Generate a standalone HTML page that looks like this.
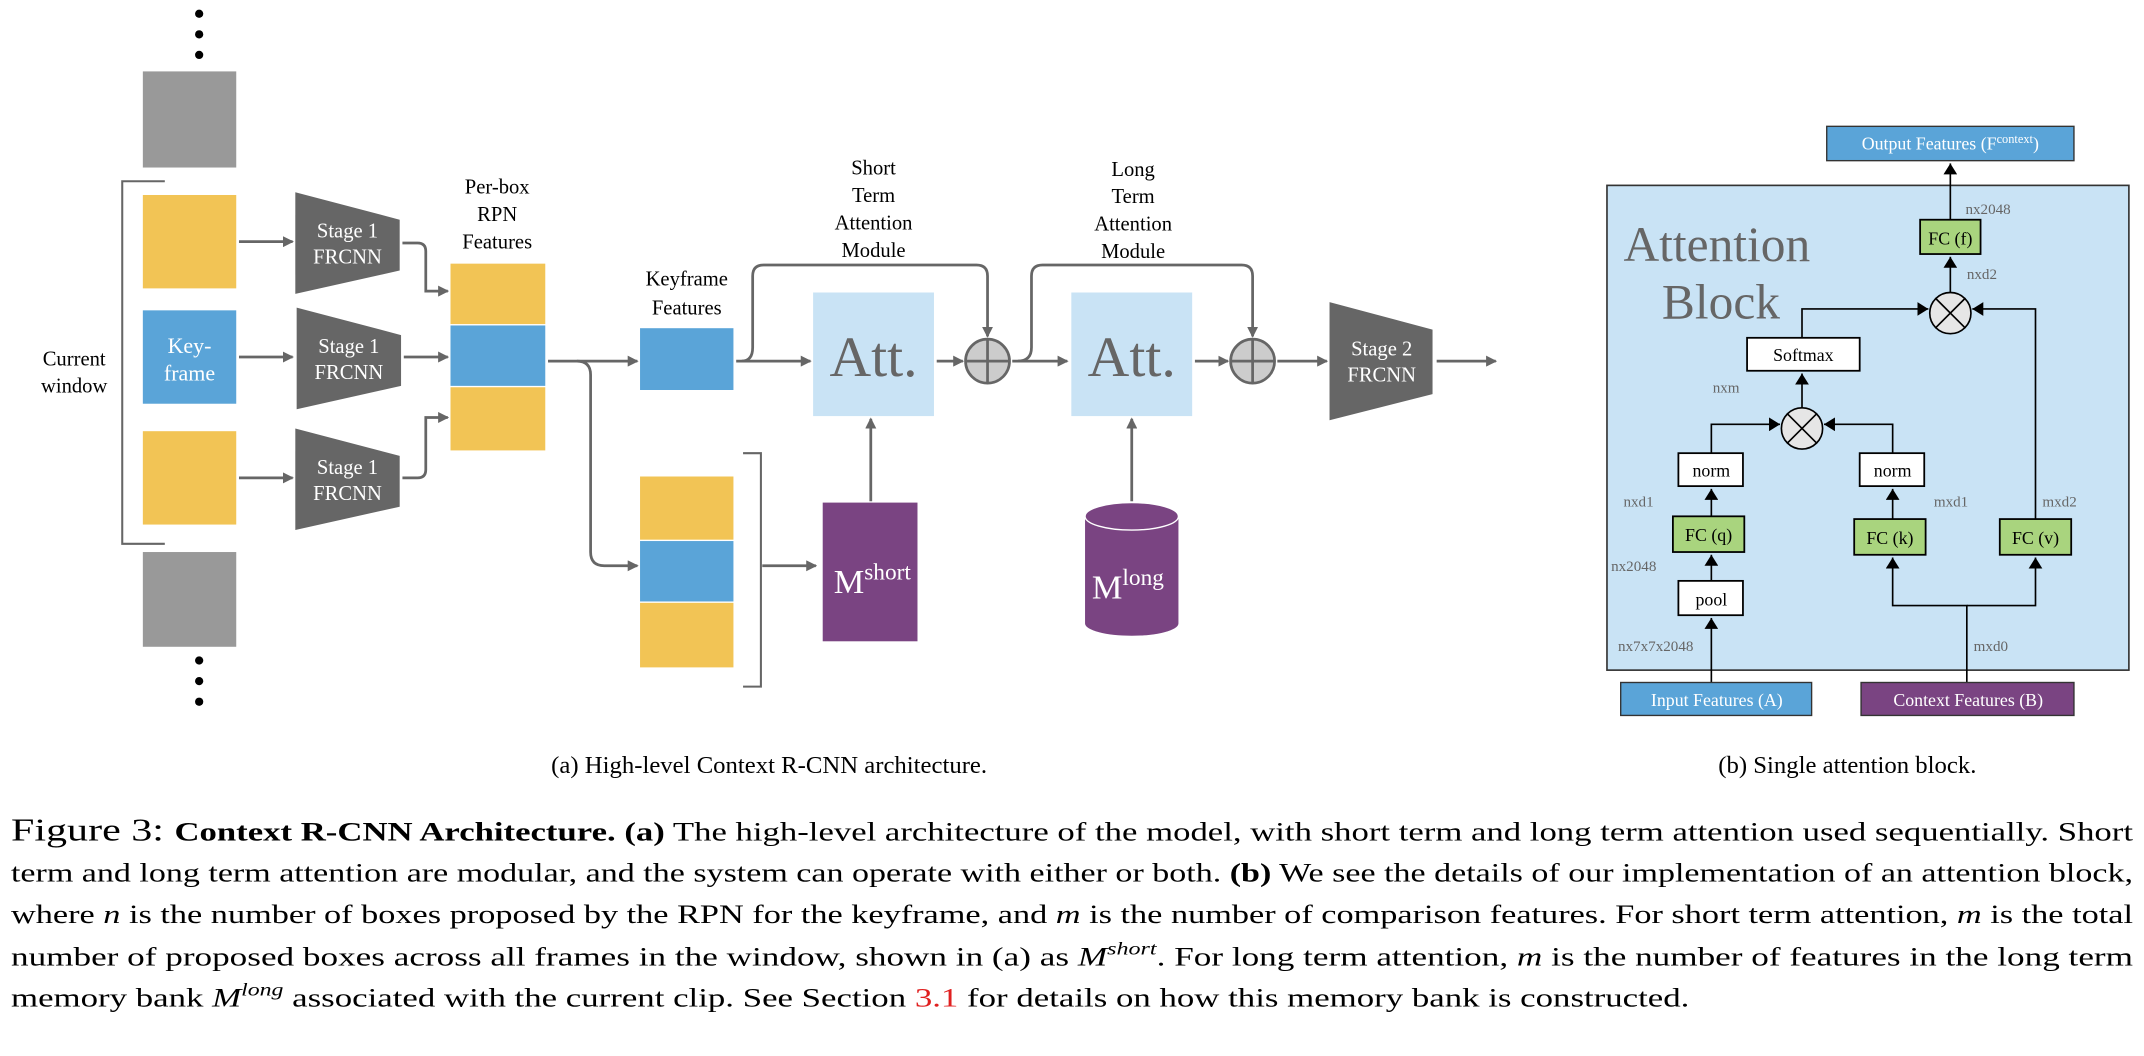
<!DOCTYPE html>
<html><head><meta charset="utf-8"><style>
html,body{margin:0;padding:0;background:#fff;}
svg{display:block;}
text{font-family:"Liberation Serif",serif;}
</style></head><body>
<svg width="2144" height="1056" viewBox="0 0 1561 769" preserveAspectRatio="none" xmlns="http://www.w3.org/2000/svg">
<defs>
<marker id="ag" markerWidth="8" markerHeight="8" refX="7" refY="4" orient="auto" markerUnits="userSpaceOnUse"><path d="M0,0 L8,4 L0,8 z" fill="#666"/></marker>
<marker id="ab" markerWidth="8" markerHeight="10" refX="8" refY="5" orient="auto" markerUnits="userSpaceOnUse"><path d="M0,0 L8,5 L0,10 z" fill="#000"/></marker>
</defs>
<g fill="#000"><circle cx="145" cy="10" r="3"/><circle cx="145" cy="25" r="3"/><circle cx="145" cy="40" r="3"/>
<circle cx="145" cy="481" r="3"/><circle cx="145" cy="496" r="3"/><circle cx="145" cy="511" r="3"/></g>
<rect x="104" y="52" width="68" height="70" fill="#999"/>
<rect x="104" y="402" width="68" height="69" fill="#999"/>
<rect x="104" y="142" width="68" height="68" fill="#F2C455"/>
<rect x="104" y="226" width="68" height="68" fill="#5AA4D8"/>
<rect x="104" y="314" width="68" height="68" fill="#F2C455"/>
<text x="138" y="257" font-size="16" fill="#fff" text-anchor="middle">Key-</text>
<text x="138" y="277" font-size="16" fill="#fff" text-anchor="middle">frame</text>
<path d="M120,132 H89 V396 H120" fill="none" stroke="#666" stroke-width="1.5"/>
<text x="54" y="266" font-size="15" text-anchor="middle">Current</text>
<text x="54" y="286" font-size="15" text-anchor="middle">window</text>
<g fill="#666">
<polygon points="215,140 291,160 291,197 215,214"/>
<polygon points="216,224 292,244 292,281 216,298"/>
<polygon points="215,312 291,332 291,369 215,386"/>
</g>
<g fill="#fff" font-size="15" text-anchor="middle">
<text x="253" y="173">Stage 1</text><text x="253" y="192">FRCNN</text>
<text x="254" y="257">Stage 1</text><text x="254" y="276">FRCNN</text>
<text x="253" y="345">Stage 1</text><text x="253" y="364">FRCNN</text>
</g>
<g stroke="#666" stroke-width="2" fill="none" marker-end="url(#ag)">
<line x1="174" y1="176" x2="213" y2="176"/>
<line x1="174" y1="260" x2="213" y2="260"/>
<line x1="174" y1="348" x2="213" y2="348"/>
<path d="M293,177 H304 Q310,177 310,183 V212 H326"/>
<line x1="294" y1="260" x2="326" y2="260"/>
<path d="M293,348 H304 Q310,348 310,342 V304 H326"/>
</g>
<text x="362" y="141" font-size="15" text-anchor="middle">Per-box</text>
<text x="362" y="161" font-size="15" text-anchor="middle">RPN</text>
<text x="362" y="181" font-size="15" text-anchor="middle">Features</text>
<rect x="328" y="192" width="69" height="44" fill="#F2C455"/>
<rect x="328" y="237" width="69" height="44" fill="#5AA4D8"/>
<rect x="328" y="282" width="69" height="46" fill="#F2C455"/>
<g stroke="#666" stroke-width="2" fill="none" marker-end="url(#ag)">
<line x1="399" y1="263" x2="464" y2="263"/>
<path d="M420,263 Q430,263 430,273 V402 Q430,412 440,412 H464"/>
</g>
<text x="500" y="208" font-size="15" text-anchor="middle">Keyframe</text>
<text x="500" y="229" font-size="15" text-anchor="middle">Features</text>
<rect x="466" y="239" width="68" height="45" fill="#5AA4D8"/>
<rect x="466" y="347" width="68" height="46" fill="#F2C455"/>
<rect x="466" y="394" width="68" height="44" fill="#5AA4D8"/>
<rect x="466" y="439" width="68" height="47" fill="#F2C455"/>
<path d="M541,330 H554 V500 H541" fill="none" stroke="#666" stroke-width="1.5"/>
<line x1="555" y1="412" x2="594" y2="412" stroke="#666" stroke-width="2" marker-end="url(#ag)"/>
<rect x="592" y="213" width="88" height="90" fill="#C9E3F5"/>
<text x="636" y="274" font-size="42" fill="#666" text-anchor="middle">Att.</text>
<text x="636" y="127" font-size="15" text-anchor="middle">Short</text>
<text x="636" y="147" font-size="15" text-anchor="middle">Term</text>
<text x="636" y="167" font-size="15" text-anchor="middle">Attention</text>
<text x="636" y="187" font-size="15" text-anchor="middle">Module</text>
<g stroke="#666" stroke-width="2" fill="none" marker-end="url(#ag)">
<line x1="536" y1="263" x2="590" y2="263"/>
<path d="M540,263 Q548,263 548,253 V201 Q548,193 556,193 H711 Q719,193 719,201 V245"/>
<line x1="682" y1="263" x2="701" y2="263"/>
<line x1="737" y1="263" x2="777" y2="263"/>
<path d="M741,263 Q751,263 751,253 V201 Q751,193 759,193 H904 Q912,193 912,201 V245"/>
<line x1="870" y1="263" x2="894" y2="263"/>
<line x1="930" y1="263" x2="966" y2="263"/>
<line x1="1046" y1="263" x2="1089" y2="263"/>
<line x1="634" y1="365" x2="634" y2="305"/>
<line x1="824" y1="365" x2="824" y2="305"/>
</g>
<g stroke="#666" stroke-width="2" fill="#ccc">
<circle cx="719" cy="263" r="16"/><line x1="703" y1="263" x2="735" y2="263"/><line x1="719" y1="247" x2="719" y2="279"/>
<circle cx="912" cy="263" r="16"/><line x1="896" y1="263" x2="928" y2="263"/><line x1="912" y1="247" x2="912" y2="279"/>
</g>
<rect x="780" y="213" width="88" height="90" fill="#C9E3F5"/>
<text x="824" y="274" font-size="42" fill="#666" text-anchor="middle">Att.</text>
<text x="825" y="128" font-size="15" text-anchor="middle">Long</text>
<text x="825" y="148" font-size="15" text-anchor="middle">Term</text>
<text x="825" y="168" font-size="15" text-anchor="middle">Attention</text>
<text x="825" y="188" font-size="15" text-anchor="middle">Module</text>
<polygon points="968,220 1043,240 1043,287 968,306" fill="#666"/>
<text x="1006" y="259" font-size="15" fill="#fff" text-anchor="middle">Stage 2</text>
<text x="1006" y="278" font-size="15" fill="#fff" text-anchor="middle">FRCNN</text>
<rect x="599" y="366" width="69" height="101" fill="#7A4482"/>
<text x="607" y="432" font-size="25" fill="#fff">M<tspan font-size="17" dy="-10">short</tspan></text>
<path d="M790,376 V454 A34,9 0 0 0 858,454 V376 Z" fill="#7A4482"/>
<ellipse cx="824" cy="376" rx="34" ry="10" fill="#7A4482" stroke="#fff" stroke-width="1"/>
<text x="795" y="436" font-size="25" fill="#fff">M<tspan font-size="17" dy="-10">long</tspan></text>
<rect x="1170" y="135" width="380" height="353" fill="#C9E3F5" stroke="#333" stroke-width="1.2"/>
<text x="1182" y="190" font-size="36" fill="#666">Attention</text>
<text x="1210" y="232" font-size="36" fill="#666">Block</text>
<rect x="1330" y="92" width="180" height="25" fill="#5AA4D8" stroke="#333" stroke-width="1"/>
<text x="1420" y="109" font-size="13" fill="#fff" text-anchor="middle">Output Features (F<tspan font-size="9" dy="-5">context</tspan><tspan dy="5">)</tspan></text>
<g stroke="#000" stroke-width="1.2" fill="none" marker-end="url(#ab)">
<line x1="1420" y1="160" x2="1420" y2="119"/>
<line x1="1420" y1="213" x2="1420" y2="187"/>
<path d="M1312,246 V225 H1404"/>
<path d="M1482,378 V225 H1436"/>
<line x1="1312" y1="297" x2="1312" y2="272"/>
<path d="M1246,330 V309 H1296"/>
<path d="M1378,330 V309 H1328"/>
<line x1="1246" y1="376" x2="1246" y2="356"/>
<line x1="1378" y1="378" x2="1378" y2="356"/>
<line x1="1246" y1="423" x2="1246" y2="404"/>
<line x1="1246" y1="497" x2="1246" y2="450"/>
<path d="M1432,497 V441 H1378 V406"/>
<path d="M1432,441 H1482 V406"/>
</g>
<g stroke="#000" stroke-width="1.2" fill="#e6e6e6">
<circle cx="1420" cy="228" r="15"/><line x1="1409" y1="217" x2="1431" y2="239"/><line x1="1431" y1="217" x2="1409" y2="239"/>
<circle cx="1312" cy="312" r="15"/><line x1="1301" y1="301" x2="1323" y2="323"/><line x1="1323" y1="301" x2="1301" y2="323"/>
</g>
<g stroke="#000" stroke-width="1.3">
<rect x="1398" y="160" width="44" height="25" fill="#A9D47E"/>
<rect x="1272" y="246" width="82" height="24" fill="#fff"/>
<rect x="1222" y="330" width="47" height="24" fill="#fff"/>
<rect x="1354" y="330" width="47" height="24" fill="#fff"/>
<rect x="1218" y="376" width="52" height="26" fill="#A9D47E"/>
<rect x="1350" y="378" width="52" height="26" fill="#A9D47E"/>
<rect x="1456" y="378" width="52" height="26" fill="#A9D47E"/>
<rect x="1222" y="423" width="47" height="25" fill="#fff"/>
</g>
<rect x="1180" y="497" width="139" height="24" fill="#5AA4D8" stroke="#333" stroke-width="1"/>
<rect x="1355" y="497" width="155" height="24" fill="#7A4482" stroke="#333" stroke-width="1"/>
<g font-size="13" text-anchor="middle">
<text x="1420" y="178">FC (f)</text>
<text x="1313" y="263">Softmax</text>
<text x="1246" y="347">norm</text>
<text x="1378" y="347">norm</text>
<text x="1244" y="394">FC (q)</text>
<text x="1376" y="396">FC (k)</text>
<text x="1482" y="396">FC (v)</text>
<text x="1246" y="441">pool</text>
<text x="1250" y="514" fill="#fff">Input Features (A)</text>
<text x="1433" y="514" fill="#fff">Context Features (B)</text>
</g>
<g font-size="11" fill="#666">
<text x="1431" y="156">nx2048</text>
<text x="1432" y="203">nxd2</text>
<text x="1247" y="286">nxm</text>
<text x="1182" y="369">nxd1</text>
<text x="1408" y="369">mxd1</text>
<text x="1487" y="369">mxd2</text>
<text x="1173" y="416">nx2048</text>
<text x="1178" y="474">nx7x7x2048</text>
<text x="1437" y="474">mxd0</text>
</g>
<text x="560" y="563" font-size="18" text-anchor="middle">(a) High-level Context R-CNN architecture.</text>
<text x="1345" y="563" font-size="18" text-anchor="middle">(b) Single attention block.</text>
<g font-size="19">
<text x="8" y="612" textLength="1545" lengthAdjust="spacingAndGlyphs"><tspan font-size="23">Figure 3: </tspan><tspan font-weight="bold">Context R-CNN Architecture. (a)</tspan> The high-level architecture of the model, with short term and long term attention used sequentially. Short</text>
<text x="8" y="642" textLength="1545" lengthAdjust="spacingAndGlyphs">term and long term attention are modular, and the system can operate with either or both. <tspan font-weight="bold">(b)</tspan> We see the details of our implementation of an attention block,</text>
<text x="8" y="672" textLength="1545" lengthAdjust="spacingAndGlyphs">where <tspan font-style="italic">n</tspan> is the number of boxes proposed by the RPN for the keyframe, and <tspan font-style="italic">m</tspan> is the number of comparison features. For short term attention, <tspan font-style="italic">m</tspan> is the total</text>
<text x="8" y="703" textLength="1545" lengthAdjust="spacingAndGlyphs">number of proposed boxes across all frames in the window, shown in (a) as <tspan font-style="italic">M</tspan><tspan font-style="italic" font-size="13" dy="-8">short</tspan><tspan dy="8">. For long term attention, </tspan><tspan font-style="italic">m</tspan> is the number of features in the long term</text>
<text x="8" y="733" textLength="1222" lengthAdjust="spacingAndGlyphs">memory bank <tspan font-style="italic">M</tspan><tspan font-style="italic" font-size="13" dy="-8">long</tspan><tspan dy="8"> associated with the current clip. See Section </tspan><tspan fill="#e02020">3.1</tspan> for details on how this memory bank is constructed.</text>
</g>
</svg>
</body></html>
